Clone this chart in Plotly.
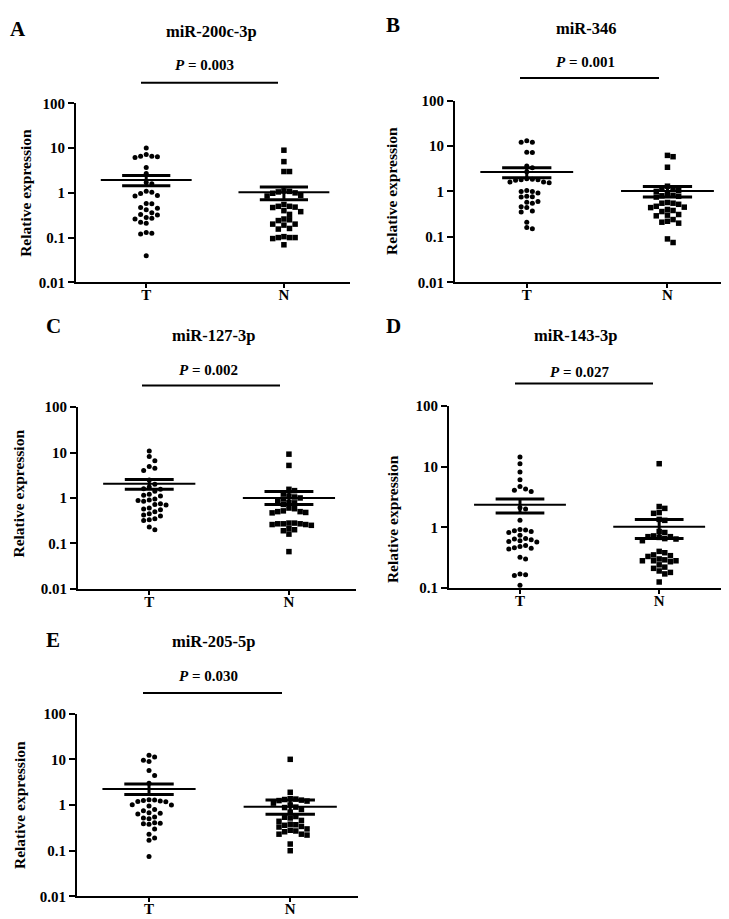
import numpy as np
import plotly.graph_objects as go

W, H = 729, 919

groups = ["T", "N"]
letters = ["A", "B", "C", "D", "E"]
titles = ["miR-200c-3p", "miR-346", "miR-127-3p", "miR-143-3p", "miR-205-5p"]
p_values = ["0.003", "0.001", "0.002", "0.027", "0.030"]

# relative expression (T = tumour, N = normal)
a_t = [10.1, 7.2, 6.6, 6.6, 6.4, 6.2, 3.7, 2.7, 1.7, 1.6, 1.09, 1.03, 0.97, 0.87, 0.85,
       0.58, 0.57, 0.47, 0.45, 0.42, 0.36, 0.33, 0.32, 0.28, 0.27, 0.26, 0.22, 0.21,
       0.13, 0.125, 0.12, 0.039]
a_n = [9.0, 5.0, 3.0, 3.0, 1.1, 1.08, 1.05, 1.0, 0.98, 0.88, 0.85, 0.55, 0.5, 0.5, 0.48,
       0.47, 0.4, 0.38, 0.33, 0.26, 0.25, 0.24, 0.2, 0.2, 0.19, 0.16, 0.155, 0.105, 0.1,
       0.1, 0.1, 0.095, 0.069]
b_t = [13.0, 12.0, 12.0, 7.3, 7.2, 3.6, 3.3, 2.7, 1.9, 1.85, 1.8, 1.8, 1.75, 1.6, 1.6,
       1.55, 1.05, 1.0, 1.0, 0.92, 0.78, 0.76, 0.75, 0.6, 0.58, 0.55, 0.46, 0.44, 0.37,
       0.35, 0.21, 0.16, 0.15]
b_n = [6.2, 5.8, 3.4, 1.3, 1.2, 1.15, 1.05, 1.0, 0.9, 0.82, 0.8, 0.78, 0.75, 0.57, 0.55,
       0.55, 0.52, 0.47, 0.45, 0.44, 0.4, 0.38, 0.36, 0.31, 0.3, 0.29, 0.24, 0.22, 0.21,
       0.2, 0.09, 0.075]
c_t = [10.8, 8.2, 6.6, 4.9, 4.5, 4.0, 2.5, 2.0, 1.75, 1.6, 1.55, 1.4, 1.2, 1.15, 1.1,
       0.95, 0.9, 0.88, 0.85, 0.75, 0.72, 0.7, 0.6, 0.57, 0.55, 0.5, 0.45, 0.42, 0.4,
       0.35, 0.33, 0.32, 0.23, 0.2]
c_n = [9.2, 5.2, 1.55, 1.45, 1.25, 1.1, 1.05, 1.0, 0.95, 0.85, 0.8, 0.78, 0.72, 0.6,
       0.58, 0.52, 0.5, 0.5, 0.48, 0.47, 0.28, 0.28, 0.27, 0.27, 0.27, 0.26, 0.26, 0.25,
       0.21, 0.2, 0.19, 0.16, 0.066]
d_t = [14.5, 11.2, 8.2, 6.1, 4.7, 4.3, 4.1, 3.9, 2.1, 2.0, 1.3, 0.92, 0.9, 0.88, 0.85,
       0.82, 0.74, 0.65, 0.64, 0.62, 0.6, 0.58, 0.57, 0.5, 0.48, 0.46, 0.45, 0.44, 0.32,
       0.3, 0.17, 0.165, 0.16, 0.11]
d_n = [11.2, 2.2, 2.05, 1.75, 1.7, 1.35, 1.3, 0.85, 0.82, 0.72, 0.7, 0.7, 0.68, 0.65,
       0.64, 0.6, 0.4, 0.38, 0.35, 0.34, 0.33, 0.3, 0.29, 0.28, 0.28, 0.28, 0.27, 0.24,
       0.22, 0.21, 0.19, 0.18, 0.17, 0.125]
e_t = [12.3, 11.2, 9.5, 9.0, 5.7, 4.4, 3.0, 1.3, 1.28, 1.25, 1.22, 1.2, 1.18, 1.02, 1.0,
       0.95, 0.8, 0.75, 0.68, 0.66, 0.64, 0.55, 0.52, 0.5, 0.41, 0.4, 0.39, 0.38, 0.3,
       0.23, 0.19, 0.17, 0.075]
e_n = [10.0, 1.9, 1.38, 1.35, 1.32, 1.28, 1.25, 1.22, 1.1, 1.0, 0.9, 0.88, 0.8, 0.7,
       0.56, 0.54, 0.52, 0.46, 0.44, 0.38, 0.37, 0.36, 0.34, 0.33, 0.3, 0.28, 0.27, 0.26,
       0.23, 0.23, 0.22, 0.14, 0.1]

# mean +/- SEM as drawn
mean_t = [1.93, 2.68, 2.06, 2.35, 2.24]
sem_t_lo = [1.45, 2.0, 1.55, 1.72, 1.69]
sem_t_hi = [2.45, 3.3, 2.56, 2.94, 2.9]
mean_n = [1.03, 1.02, 1.0, 1.02, 0.92]
sem_n_lo = [0.70, 0.75, 0.72, 0.65, 0.63]
sem_n_hi = [1.35, 1.28, 1.38, 1.34, 1.28]

y_ticks = [0.01, 0.1, 1, 10, 100]

data_t = [a_t, b_t, c_t, d_t, e_t]
data_n = [a_n, b_n, c_n, d_n, e_n]

# --- panel geometry in pixels
boxes = [  # x0, x1, y_top, y_bottom, log range
    (68, 342, 89, 271, (-2, 2)),
    (447, 727, 86, 271, (-2, 2)),
    (70, 348, 398, 583, (-2, 2)),
    (441, 718, 397, 582, (-1, 2)),
    (69, 350, 710, 896, (-2, 2)),
]
annos = [  # letter xy, title xy, P xy, bracket (y, x0, x1), y-title xy
    ((10, 13), (203, 16), (197, 50), (68, 133, 270), (18, 180)),
    ((385, 9), (578, 13), (577, 47), (63, 512, 651), (384, 178)),
    ((45, 316), (205, 325), (200, 360), (376, 134, 272), (11, 486)),
    ((386, 316), (567, 325), (571, 362), (374, 507, 645), (384, 512)),
    ((45, 635), (205, 637), (200, 672), (689, 135, 274), (11, 803)),
]
XR = (-0.51, 1.48)
FONT = "Liberation Serif"


def px(x):
    return x / W


def py(y):
    return 1 - y / H


def swarm(vals, px_dec, px_unit, d=5.6):
    vals = np.asarray(vals, float)
    order = np.argsort(vals)[::-1]
    placed = []
    offs = np.zeros(len(vals))
    cands = [0]
    for j in range(1, 25):
        cands += [j, -j]
    for i in order:
        y = np.log10(vals[i]) * px_dec
        for c in cands:
            x = c * d
            if all((x - a) ** 2 + (y - b) ** 2 >= (0.97 * d) ** 2 for a, b in placed):
                break
        placed.append((x, y))
        offs[i] = x / px_unit
    return offs


fig = go.Figure()
layout = {}
shapes = []
annotations = []

for k in range(5):
    x0, x1, yt, yb, yr = boxes[k]
    n = "" if k == 0 else str(k + 1)
    xa, ya = "x" + n, "y" + n
    px_unit = (x1 - x0) / (XR[1] - XR[0])
    px_dec = (yb - yt) / (yr[1] - yr[0])

    for gi, (vals, sym, sz) in enumerate([(data_t[k], "circle", 5), (data_n[k], "square", 5.5)]):
        off = swarm(vals, px_dec, px_unit)
        fig.add_trace(go.Scatter(
            x=gi + off, y=vals, mode="markers", xaxis=xa, yaxis=ya,
            marker=dict(symbol=sym, size=sz, color="black", line=dict(width=0)),
            showlegend=False, cliponaxis=False,
        ))

    for gi, (m, lo, hi) in enumerate([(mean_t[k], sem_t_lo[k], sem_t_hi[k]),
                                       (mean_n[k], sem_n_lo[k], sem_n_hi[k])]):
        fig.add_trace(go.Scatter(
            x=[gi - 0.33, gi + 0.33], y=[m, m], mode="lines", xaxis=xa, yaxis=ya,
            line=dict(color="black", width=2), showlegend=False,
        ))
        fig.add_trace(go.Scatter(
            x=[gi - 0.175, gi + 0.175, None, gi - 0.175, gi + 0.175, None, gi, gi],
            y=[hi, hi, None, lo, lo, None, lo, hi], mode="lines", xaxis=xa, yaxis=ya,
            line=dict(color="black", width=3), showlegend=False,
        ))

    layout["xaxis" + n] = dict(
        domain=[px(x0), px(x1)], range=list(XR), anchor=ya,
        tickvals=[0, 1], ticktext=groups, ticks="outside", ticklen=4, tickwidth=2,
        tickcolor="black", showline=True, linewidth=2, linecolor="black",
        showgrid=False, zeroline=False, fixedrange=True, ticklabelstandoff=-6,
        tickfont=dict(family=FONT, size=15, color="black", weight="bold"),
    )
    layout["yaxis" + n] = dict(
        domain=[py(yb), py(yt)], type="log", range=list(yr), anchor=xa,
        tickvals=y_ticks, ticktext=[str(v) for v in y_ticks],
        ticks="outside", ticklen=6, tickwidth=2, tickcolor="black",
        showline=True, linewidth=2, linecolor="black",
        showgrid=False, zeroline=False, minor=dict(ticks=""),
        tickfont=dict(family=FONT, size=15, color="black", weight="bold"),
    )

    (lx, ly), (tx, ty), (pxx, pyy), (by, bx0, bx1), (yx, yy) = annos[k]
    annotations += [
        dict(x=px(lx), y=py(ly), text="<b>%s</b>" % letters[k], font=dict(size=21)),
        dict(x=px(tx), y=py(ty), text="<b>%s</b>" % titles[k], font=dict(size=16.5)),
        dict(x=px(pxx), y=py(pyy), text="<b><i>P</i> = %s</b>" % p_values[k], font=dict(size=15)),
        dict(x=px(yx), y=py(yy), text="<b>Relative expression</b>", textangle=-90,
             font=dict(size=15.5)),
    ]
    shapes.append(dict(type="line", xref="paper", yref="paper",
                       x0=px(bx0), x1=px(bx1), y0=py(by), y1=py(by),
                       line=dict(color="black", width=2)))

for a in annotations:
    a.update(xref="paper", yref="paper", showarrow=False, xanchor="center", yanchor="middle")
    a["font"].update(family=FONT, color="black")

fig.update_layout(
    width=W, height=H, margin=dict(l=0, r=0, t=0, b=0),
    paper_bgcolor="white", plot_bgcolor="white",
    annotations=annotations, shapes=shapes, showlegend=False,
    **layout,
)

fig.write_html("out.html")
